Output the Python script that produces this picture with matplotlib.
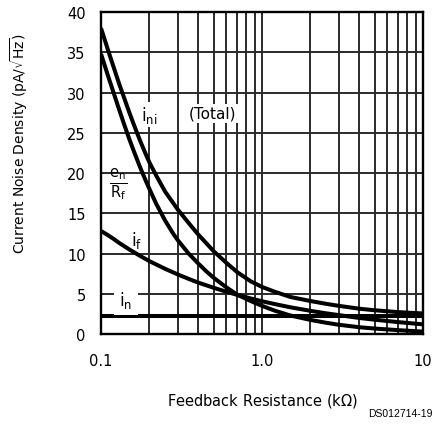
import matplotlib.pyplot as plt
from matplotlib.ticker import FixedLocator, NullFormatter

# feedback resistance (kOhm) and noise densities (pA/sqrt(Hz))
r_pts = [0.1, 0.11, 0.12, 0.13, 0.14, 0.15, 0.16, 0.175, 0.19, 0.2, 0.22, 0.25, 0.28, 0.3,
         0.35, 0.4, 0.45, 0.5, 0.6, 0.7, 0.85, 1.0, 1.2, 1.5, 2.0, 2.5, 3.0, 4.0, 5.0, 7.0, 10.0]
i_total = [38.0, 35.4, 33.1, 31.0, 29.2, 27.5, 26.0, 24.0, 22.3, 21.3, 19.7, 17.7, 16.3, 15.45,
           13.8, 12.4, 11.3, 10.3, 8.85, 7.7, 6.55, 5.85, 5.25, 4.6, 4.1, 3.75, 3.5, 3.15, 2.95, 2.72, 2.55]
i_en = [34.8, 32.2, 29.9, 27.8, 25.9, 24.2, 22.7, 20.7, 19.0, 18.0, 16.2, 14.1, 12.5, 11.65,
        10.0, 8.8, 7.8, 7.0, 5.8, 4.9, 4.1, 3.5, 2.9, 2.3, 1.75, 1.4, 1.15, 0.85, 0.68, 0.48, 0.3]

r_f = [0.1, 0.11, 0.12, 0.13, 0.15, 0.175, 0.2, 0.25, 0.3, 0.35, 0.4, 0.5, 0.6, 0.7, 0.85,
       1.0, 1.2, 1.5, 2.0, 2.5, 3.0, 4.0, 5.0, 7.0, 10.0]
i_f = [12.8, 12.3, 11.8, 11.3, 10.5, 9.7, 9.05, 8.1, 7.4, 6.85, 6.4, 5.75, 5.25, 4.87, 4.42,
       4.07, 3.72, 3.32, 2.88, 2.57, 2.35, 2.0, 1.78, 1.48, 1.2]

r_n = [0.1, 10.0]
i_n = [2.3, 2.3]

x_ticks = [0.1, 1.0, 10.0]
x_tick_labels = ['0.1', '1.0', '10']
y_ticks = [0, 5, 10, 15, 20, 25, 30, 35, 40]

plt.rcParams['font.family'] = ['DejaVu Sans']
plt.rcParams['mathtext.fontset'] = 'dejavusans'

fig = plt.figure(figsize=(4.33, 4.31), dpi=100)
ax = fig.add_axes([0.2333, 0.2227, 0.7436, 0.7471])

ax.set_xscale('log')
ax.set_xlim(0.1, 10)
ax.set_ylim(0, 40)

# grid on every minor decade step and every 5 units
minor = [m * d for d in (0.1, 1.0) for m in range(1, 10)] + [10.0]
ax.xaxis.set_major_locator(FixedLocator(x_ticks))
ax.xaxis.set_minor_locator(FixedLocator(minor))
ax.xaxis.set_minor_formatter(NullFormatter())
ax.set_xticklabels(x_tick_labels)
ax.set_yticks(y_ticks)
ax.grid(True, which='both', axis='x', color='#2a2a2a', lw=1.4, zorder=1)
ax.grid(True, which='major', axis='y', color='#2a2a2a', lw=1.4, zorder=1)
ax.tick_params(which='both', length=0, labelsize=10.5, colors='black')
ax.tick_params(axis='x', pad=14)
ax.tick_params(axis='y', pad=11)
for s in ax.spines.values():
    s.set_linewidth(1.7)
    s.set_zorder(5)

lw = 2.9
ax.plot(r_pts, i_total, color='black', lw=lw, zorder=3, solid_capstyle='butt')
ax.plot(r_pts, i_en, color='black', lw=lw, zorder=3, solid_capstyle='butt')
ax.plot(r_f, i_f, color='black', lw=lw, zorder=3, solid_capstyle='butt')
ax.plot(r_n, i_n, color='black', lw=lw, zorder=3, solid_capstyle='butt')

box = dict(facecolor='white', edgecolor='none', pad=1.5)
ax.text(0.2, 27.3, r'i$_{\mathregular{ni}}$', fontsize=12, ha='center', va='center', bbox=box, zorder=4)
ax.text(0.49, 27.4, '(Total)', fontsize=11, ha='center', va='center', bbox=box, zorder=4)
ax.text(0.128, 18.6, r'$\mathregular{\frac{e_n}{R_f}}$', fontsize=15, ha='center', va='center', zorder=4)
ax.text(0.167, 11.8, r'i$_{\mathregular{f}}$', fontsize=12, ha='center', va='center', zorder=4)
ax.text(0.143, 4.3, r'i$_{\mathregular{n}}$', fontsize=12, ha='center', va='center',
        bbox=dict(facecolor='white', edgecolor='none', pad=4), zorder=4)

ax.set_xlabel(r'Feedback Resistance (k$\Omega$)', fontsize=10.5, labelpad=16)
ax.set_ylabel(r'Current Noise Density (pA/$\sqrt{\mathregular{Hz}}$)', fontsize=10)
ax.yaxis.set_label_coords(-0.22, 0.593)
fig.text(0.998, 0.04, 'DS012714-19', fontsize=7.5, family='Liberation Sans', ha='right', va='center')

plt.savefig('out.png', dpi=100)
